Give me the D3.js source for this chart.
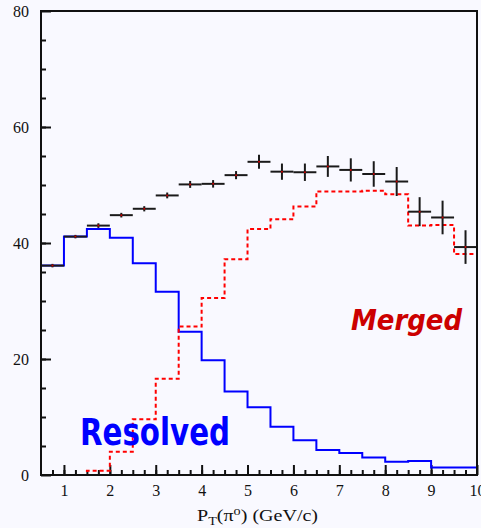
<!DOCTYPE html>
<html>
<head>
<meta charset="utf-8">
<script src="https://cdn.jsdelivr.net/npm/d3@7"></script>
<style>
  body { margin: 0; background: #f9f9ff; }
  svg { display: block; }
  .tick text { font-family: "Liberation Serif", serif; font-size: 16px; fill: #111; }
</style>
</head>
<body>
<div id="chart"></div>
<script>
// bin edges (GeV/c) and bin centres
const binEdges = [0.5, 1, 1.5, 2, 2.5, 3, 3.5, 4, 4.5, 5, 5.5, 6, 6.5, 7, 7.5, 8, 8.5, 9, 9.5, 10];
const binCenters = [0.75, 1.25, 1.75, 2.25, 2.75, 3.25, 3.75, 4.25, 4.75, 5.25, 5.75, 6.25, 6.75, 7.25, 7.75, 8.25, 8.75, 9.25, 9.75];

// resolved (blue), merged (red dashed), total with errors (black crosses)
const resolved = [36.1, 41.1, 42.4, 40.9, 36.5, 31.6, 24.7, 19.8, 14.4, 11.7, 8.3, 6.0, 4.3, 3.8, 3.0, 2.3, 2.4, 1.3, 1.3];
const merged   = [0, 0, 0.75, 4.0, 9.6, 16.6, 25.6, 30.5, 37.2, 42.4, 44.1, 46.3, 48.9, 48.9, 49.0, 48.4, 43.0, 43.1, 38.1];
const total    = [36.1, 41.1, 43.0, 44.8, 45.9, 48.2, 50.1, 50.2, 51.7, 54.0, 52.3, 52.2, 53.2, 52.6, 51.9, 50.6, 45.4, 44.4, 39.3];
const totalErr = [0.3, 0.3, 0.4, 0.4, 0.45, 0.5, 0.6, 0.65, 0.7, 1.2, 1.4, 1.5, 1.8, 2.0, 2.2, 2.5, 2.5, 2.9, 2.9];

const xMajor = [1, 2, 3, 4, 5, 6, 7, 8, 9, 10];
const yMajor = [0, 20, 40, 60, 80];

const W = 481, H = 528;
const margin = { top: 11, right: 4, bottom: 53, left: 41 };

const x = d3.scaleLinear().domain([0.5, 10]).range([margin.left, W - margin.right]);
const y = d3.scaleLinear().domain([0, 80]).range([H - margin.bottom, margin.top]);

const svg = d3.select("#chart").append("svg")
    .attr("width", W)
    .attr("height", H);

svg.append("rect").attr("width", W).attr("height", H).attr("fill", "#f9f9ff");

// minor ticks
svg.append("g")
    .attr("transform", `translate(0,${y(0)})`)
    .call(d3.axisBottom(x).tickValues(d3.range(0.75, 10, 0.25)).tickSize(-5).tickFormat(""))
    .call(g => g.select(".domain").remove())
    .call(g => g.selectAll("line").attr("stroke", "#111").attr("stroke-width", 2));
svg.append("g")
    .attr("transform", `translate(${x(0.5)},0)`)
    .call(d3.axisLeft(y).tickValues(d3.range(5, 80, 5)).tickSize(-5).tickFormat(""))
    .call(g => g.select(".domain").remove())
    .call(g => g.selectAll("line").attr("stroke", "#111").attr("stroke-width", 2));

// major ticks + labels
svg.append("g")
    .attr("transform", `translate(0,${y(0)})`)
    .call(d3.axisBottom(x).tickValues(xMajor).tickSize(-10).tickPadding(10).tickFormat(d3.format("d")))
    .call(g => g.select(".domain").remove())
    .call(g => g.selectAll("line").attr("stroke", "#111").attr("stroke-width", 2));
svg.append("g")
    .attr("transform", `translate(${x(0.5)},0)`)
    .call(d3.axisLeft(y).tickValues(yMajor).tickSize(-10).tickPadding(12).tickFormat(d3.format("d")))
    .call(g => g.select(".domain").remove())
    .call(g => g.selectAll("line").attr("stroke", "#111").attr("stroke-width", 2));

// histogram outline helper
function histPoints(vals) {
    const pts = [[binEdges[0], 0]];
    vals.forEach((v, i) => {
        pts.push([binEdges[i], v]);
        pts.push([binEdges[i + 1], v]);
    });
    pts.push([binEdges[binEdges.length - 1], 0]);
    return pts;
}
const line = d3.line().x(d => x(d[0])).y(d => y(d[1]));

svg.append("path")
    .attr("d", line(histPoints(resolved)))
    .attr("fill", "none")
    .attr("stroke", "#0000ff")
    .attr("stroke-width", 2);

svg.append("path")
    .attr("d", line(histPoints(merged)))
    .attr("fill", "none")
    .attr("stroke", "#ff0000")
    .attr("stroke-width", 2)
    .attr("stroke-dasharray", "4,3");

// total: crosses with errors
const pts = svg.append("g").selectAll("g")
    .data(binCenters.map((c, i) => ({ c, v: total[i], e: totalErr[i] })))
    .join("g");
pts.append("line")
    .attr("x1", d => x(d.c - 0.25)).attr("x2", d => x(d.c + 0.25))
    .attr("y1", d => y(d.v)).attr("y2", d => y(d.v))
    .attr("stroke", "#1a1a1a").attr("stroke-width", 2);
pts.append("line")
    .attr("x1", d => x(d.c)).attr("x2", d => x(d.c))
    .attr("y1", d => y(d.v - d.e)).attr("y2", d => y(d.v + d.e))
    .attr("stroke", "#1a1a1a").attr("stroke-width", 2);
pts.append("circle")
    .attr("cx", d => x(d.c)).attr("cy", d => y(d.v))
    .attr("r", 1).attr("fill", "#cc0000");

// frame
svg.append("rect")
    .attr("x", x(0.5)).attr("y", y(80))
    .attr("width", x(10) - x(0.5)).attr("height", y(0) - y(80))
    .attr("fill", "none").attr("stroke", "#111").attr("stroke-width", 2);

// labels
svg.append("text")
    .attr("x", 80).attr("y", 445)
    .attr("textLength", 150).attr("lengthAdjust", "spacingAndGlyphs")
    .attr("font-family", "DejaVu Sans, sans-serif")
    .attr("font-weight", "bold").attr("font-size", 37)
    .attr("fill", "#0000ff")
    .text("Resolved");

svg.append("text")
    .attr("x", 351).attr("y", 330)
    .attr("textLength", 111).attr("lengthAdjust", "spacingAndGlyphs")
    .attr("font-family", "DejaVu Sans, sans-serif")
    .attr("font-weight", "bold").attr("font-style", "italic").attr("font-size", 29)
    .attr("fill", "#cc0000")
    .text("Merged");

const title = svg.append("text")
    .attr("transform", "translate(197,521) scale(1.18,1)")
    .attr("font-family", "Liberation Serif, serif")
    .attr("font-size", 17)
    .attr("fill", "#111");
title.append("tspan").text("P");
title.append("tspan").attr("font-size", 12).attr("dy", 4).text("T");
title.append("tspan").attr("dy", -4).text("(π");
title.append("tspan").attr("font-size", 12).attr("dy", -6).text("o");
title.append("tspan").attr("dy", 6).text(") (GeV/c)");
</script>
</body>
</html>
